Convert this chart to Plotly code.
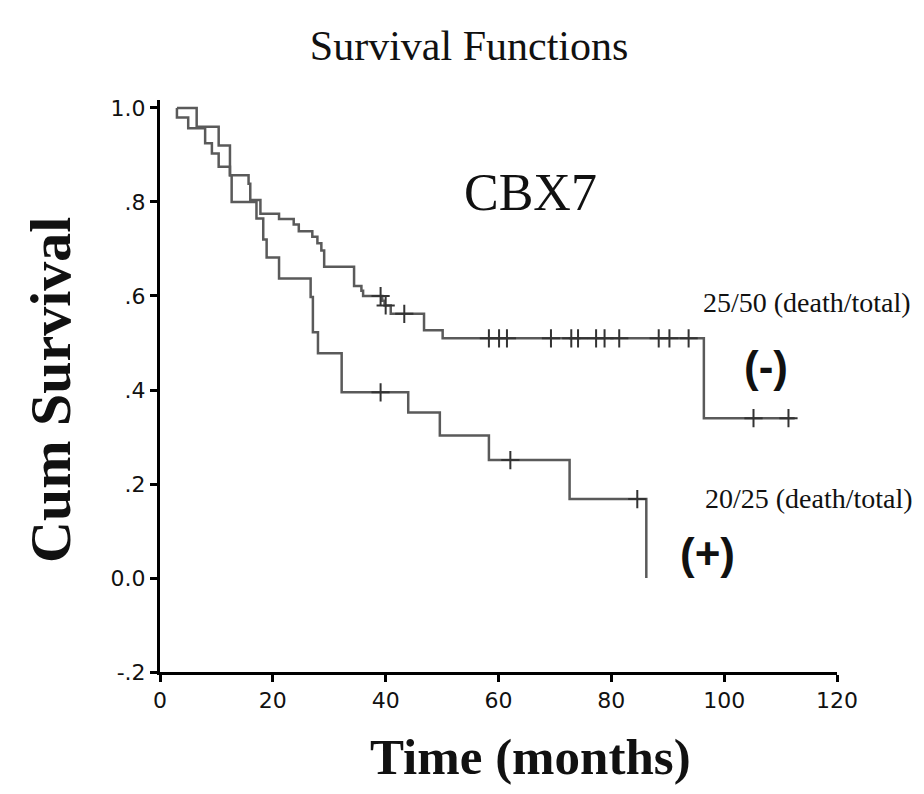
import plotly.graph_objects as go

# Kaplan-Meier step values
neg_time = [3, 3, 5, 8.0, 9.2, 10.4, 12.4, 15.7, 16.0, 17.8, 21.1, 23.7, 24.6, 27.0,
            27.9, 28.6, 29.1, 34.4, 35.7, 36.0, 39.4, 39.8, 40.9, 46.8, 50.1, 96.4, 112.5]
neg_surv = [1.0, 0.98, 0.957, 0.925, 0.903, 0.875, 0.857, 0.839, 0.804, 0.775, 0.764,
            0.752, 0.738, 0.726, 0.712, 0.697, 0.662, 0.621, 0.611, 0.60, 0.59, 0.58,
            0.562, 0.527, 0.51, 0.34, 0.34]

pos_time = [3, 6.5, 10.4, 12.4, 12.7, 17.1, 18.3, 18.9, 21.1, 26.7, 27.1, 28.0,
            32.2, 44.0, 49.6, 58.3, 72.6, 86.2]
pos_surv = [1.0, 0.96, 0.92, 0.857, 0.80, 0.765, 0.72, 0.682, 0.637, 0.598, 0.523,
            0.478, 0.395, 0.352, 0.303, 0.251, 0.168, 0.0]

# censored cases (+ marks)
neg_cens_time = [39.1, 40.0, 43.3, 58.3, 60.1, 61.5, 69.3, 72.9, 74.1, 77.3, 78.8,
                 81.4, 88.4, 90.3, 93.7, 105.2, 111.4]
neg_cens_surv = [0.60, 0.58, 0.562, 0.51, 0.51, 0.51, 0.51, 0.51, 0.51, 0.51, 0.51,
                 0.51, 0.51, 0.51, 0.51, 0.34, 0.34]
pos_cens_time = [39.1, 62.1, 84.6]
pos_cens_surv = [0.395, 0.251, 0.168]

y_ticks = [-0.2, 0.0, 0.2, 0.4, 0.6, 0.8, 1.0]
y_tick_text = ['-.2', '0.0', '.2', '.4', '.6', '.8', '1.0']
x_ticks = [0, 20, 40, 60, 80, 100, 120]

serif = 'Liberation Serif'
line_col = '#5a5a5a'
mark_col = '#333333'

fig = go.Figure()

for t, s in [(neg_time, neg_surv), (pos_time, pos_surv)]:
    fig.add_trace(go.Scatter(x=t, y=s, mode='lines', line_shape='hv',
                             line={'color': line_col, 'width': 2.5},
                             showlegend=False, hoverinfo='skip'))

for t, s in [(neg_cens_time, neg_cens_surv), (pos_cens_time, pos_cens_surv)]:
    fig.add_trace(go.Scatter(x=t, y=s, mode='markers',
                             marker={'symbol': 'cross-thin', 'size': 13,
                                     'line': {'color': mark_col, 'width': 2}},
                             showlegend=False, hoverinfo='skip'))

# the page body adds 8px, so margins are shifted by that much
fig.update_layout(
    width=924, height=794,
    margin={'l': 152, 'r': 95, 't': 92, 'b': 130},
    paper_bgcolor='white', plot_bgcolor='white',
    title={'text': 'Survival Functions', 'x': 0.499, 'xanchor': 'center',
           'y': 0.953, 'yanchor': 'middle',
           'font': {'family': serif, 'size': 42, 'color': '#111'}},
)

fig.update_xaxes(range=[0, 120], tickvals=x_ticks, showgrid=False, zeroline=False,
                 showline=True, linecolor='black', linewidth=3,
                 ticks='outside', ticklen=7, tickwidth=3, tickcolor='black',
                 tickfont={'family': 'DejaVu Sans', 'size': 22, 'color': '#111'})
fig.update_yaxes(range=[-0.2, 1.017], tickvals=y_ticks, ticktext=y_tick_text,
                 showgrid=False, zeroline=False,
                 showline=True, linecolor='black', linewidth=3,
                 ticks='outside', ticklen=7, tickwidth=3, tickcolor='black',
                 tickfont={'family': 'DejaVu Sans', 'size': 22, 'color': '#111'})

notes = [
    dict(text='CBX7', x=65.6, y=0.82, font={'family': serif, 'size': 52}),
    dict(text='25/50 (death/total)', x=114.6, y=0.587, font={'family': serif, 'size': 28}),
    dict(text='<b>(-)</b>', x=107.4, y=0.449, font={'family': 'Liberation Sans', 'size': 44}),
    dict(text='20/25 (death/total)', x=115.0, y=0.170, font={'family': serif, 'size': 28}),
    dict(text='<b>(+)</b>', x=97.0, y=0.053, font={'family': 'Liberation Sans', 'size': 44}),
]
for n in notes:
    n['font']['color'] = '#111'
    fig.add_annotation(xref='x', yref='y', showarrow=False,
                       xanchor='center', yanchor='middle', **n)

fig.add_annotation(text='<b>Cum Survival</b>', xref='paper', yref='paper',
                   x=-0.1625, y=0.493, textangle=-90, showarrow=False,
                   xanchor='center', yanchor='middle',
                   font={'family': serif, 'size': 58, 'color': '#111'})
fig.add_annotation(text='<b>Time (months)</b>', xref='paper', yref='paper',
                   x=0.548, y=-0.1486, showarrow=False,
                   xanchor='center', yanchor='middle',
                   font={'family': serif, 'size': 51, 'color': '#111'})

fig.write_html('out.html')
